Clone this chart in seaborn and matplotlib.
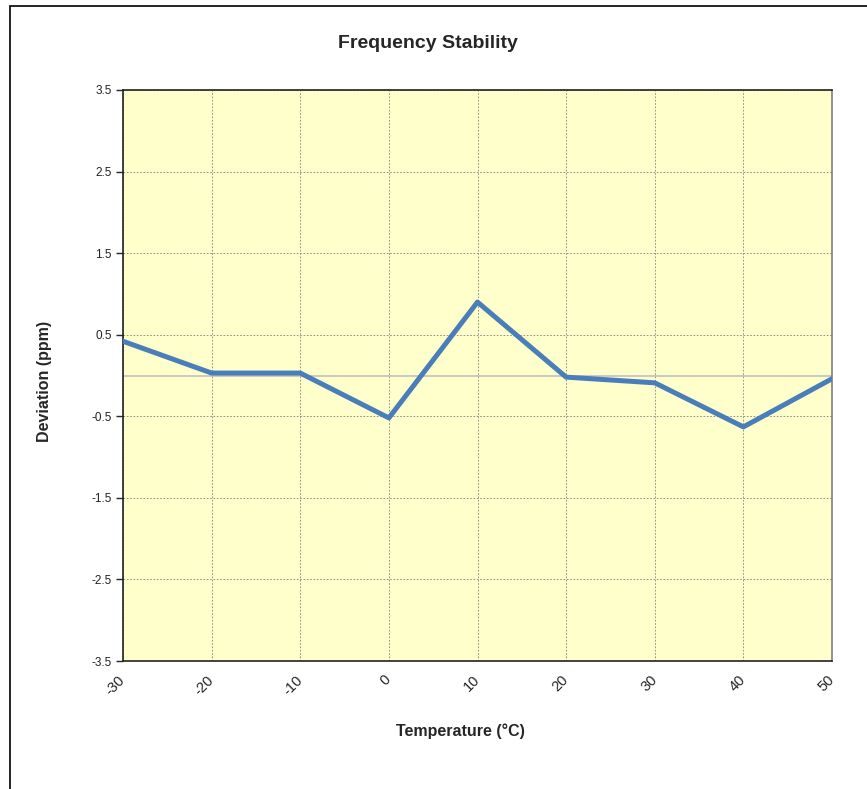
import pandas as pd
import matplotlib.pyplot as plt
import seaborn as sns
from matplotlib.patches import Rectangle

# data
temperature = [-30, -20, -10, 0, 10, 20, 30, 40, 50]
deviation = [0.42, 0.03, 0.03, -0.52, 0.90, -0.02, -0.09, -0.63, -0.04]
y_ticks = [-3.5, -2.5, -1.5, -0.5, 0.5, 1.5, 2.5, 3.5]

df = pd.DataFrame({"Temperature": temperature, "Deviation": deviation})

sns.set_theme(style="white")
plt.rcParams["font.family"] = ["Liberation Sans", "DejaVu Sans"]

fig = plt.figure(figsize=(8.67, 7.89), dpi=100)
ax = fig.add_axes([123 / 867, 1 - 661 / 789, (832 - 123) / 867, (661 - 90) / 789])

# chart frame (left and top edges visible in the reference)
fig.patches.append(Rectangle((10 / 867, -0.1), 1.2, 1 - 6 / 789 + 0.1,
                             transform=fig.transFigure, fill=False,
                             edgecolor="black", linewidth=1.2))

ax.set_facecolor("#ffffcc")
ax.axhline(0, color="#c0c0c0", linewidth=1.2, zorder=1)
sns.lineplot(data=df, x="Temperature", y="Deviation", ax=ax,
             color="#4a7ebb", linewidth=3.6, zorder=3)

ax.set_xlim(-30, 50)
ax.set_ylim(-3.5, 3.5)
ax.set_xticks(temperature)
ax.set_xticklabels([str(t) for t in temperature], rotation=45,
                   ha="right", va="center", rotation_mode="anchor", fontsize=10.5)
ax.set_yticks(y_ticks)
ax.set_yticklabels([f"{v:.1f}" for v in y_ticks], fontsize=8.5, color="#222222")
ax.tick_params(axis="y", direction="out", length=5, width=1, left=True, pad=3)
ax.tick_params(axis="x", length=0, pad=12)

ax.grid(True, color="#808080", linestyle=(0, (2, 2)), linewidth=0.6)
for side in ["left", "bottom", "top"]:
    ax.spines[side].set_color("#222222")
    ax.spines[side].set_linewidth(1.2)
ax.spines["right"].set_color("#808080")
ax.spines["right"].set_linewidth(1.2)

ax.set_xlabel("")
ax.set_ylabel("")
fig.text(460 / 867, 1 - 731 / 789, "Temperature (°C)", ha="center", va="center",
         fontsize=11.5, fontweight="bold")
fig.text(44 / 867, 1 - 381 / 789, "Deviation (ppm)", ha="center", va="center",
         rotation=90, fontsize=11.5, fontweight="bold")
fig.text(428 / 867, 1 - 44 / 789, "Frequency Stability", ha="center", va="center",
         fontsize=14, fontweight="bold")

fig.savefig("out.png", dpi=100)
